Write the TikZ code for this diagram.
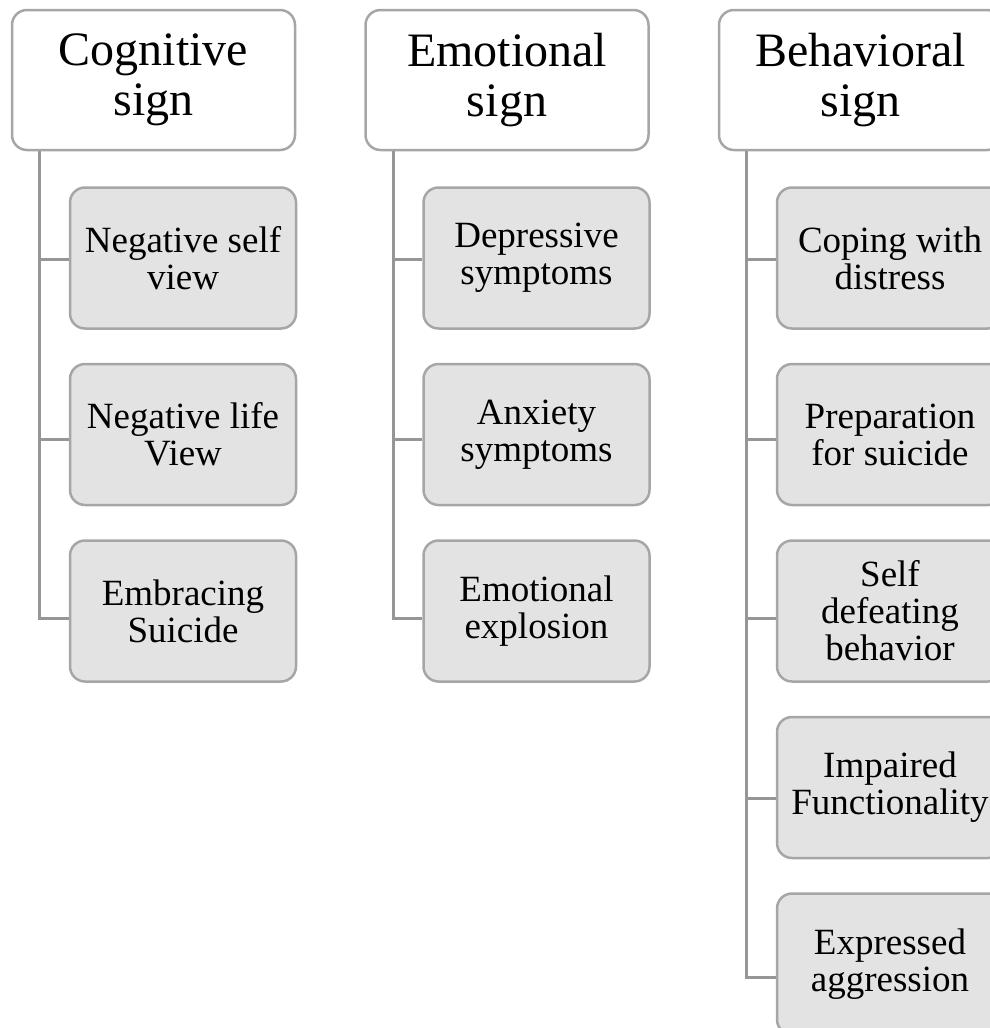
\documentclass[tikz,border=0pt]{standalone}
\usepackage{fontspec}
\setmainfont{Liberation Serif}
\usetikzlibrary{positioning}

\definecolor{edgegray}{RGB}{166,166,166}
\definecolor{boxfill}{RGB}{227,227,227}
\definecolor{linkgray}{RGB}{150,150,150}

\tikzset{
    parentbox/.style={draw=edgegray, fill=white, line width=2.5pt, rounded corners=15pt,
        minimum width=283pt, minimum height=140pt, align=center, inner sep=0pt,
        font=\fontsize{48}{50}\selectfont},
    childbox/.style={draw=edgegray, fill=boxfill, line width=2.5pt, rounded corners=15pt,
        minimum width=226pt, minimum height=141pt, align=center, inner sep=0pt,
        font=\fontsize{37}{37}\selectfont},
    link/.style={draw=linkgray, line width=3pt},
}

\begin{document}
\begin{tikzpicture}[x=1pt, y=1pt, node distance=33pt]
    \useasboundingbox (0,0) rectangle (990,-1028);
    \clip (0,0) rectangle (990,-1028);

    % top level
    \node [parentbox] (cog) at (153.5,-80) {Cognitive\\sign};
    \node [parentbox, right=68pt of cog] (emo) {Emotional\\sign};
    \node [parentbox, right=68pt of emo] (beh) {Behavioral\\sign};

    % cognitive
    \node [childbox, anchor=north west] (cog1) at ([xshift=58pt, yshift=-35pt]cog.south west) {Negative self\\view};
    \node [childbox, below=of cog1] (cog2) {Negative life\\View};
    \node [childbox, below=of cog2] (cog3) {Embracing\\Suicide};

    % emotional
    \node [childbox, anchor=north west] (emo1) at ([xshift=58pt, yshift=-35pt]emo.south west) {Depressive\\symptoms};
    \node [childbox, below=of emo1] (emo2) {Anxiety\\symptoms};
    \node [childbox, below=of emo2] (emo3) {Emotional\\explosion};

    % behavioral
    \node [childbox, anchor=north west] (beh1) at ([xshift=58pt, yshift=-35pt]beh.south west) {Coping with\\distress};
    \node [childbox, below=of beh1] (beh2) {Preparation\\for suicide};
    \node [childbox, below=of beh2] (beh3) {Self\\defeating\\behavior};
    \node [childbox, below=of beh3] (beh4) {Impaired\\Functionality};
    \node [childbox, below=of beh4] (beh5) {Expressed\\aggression};

    % links (they creep down a little from box to box)
    \foreach \p/\c/\k in {cog/cog1/0, cog/cog2/1, cog/cog3/2, emo/emo1/0, emo/emo2/1, emo/emo3/2,
                          beh/beh1/0, beh/beh2/1, beh/beh3/2, beh/beh4/3, beh/beh5/4}
        \draw [link] ([xshift=29pt]\p.south west) |- ([yshift={-1.5-3*\k}]\c.west);
\end{tikzpicture}
\end{document}
